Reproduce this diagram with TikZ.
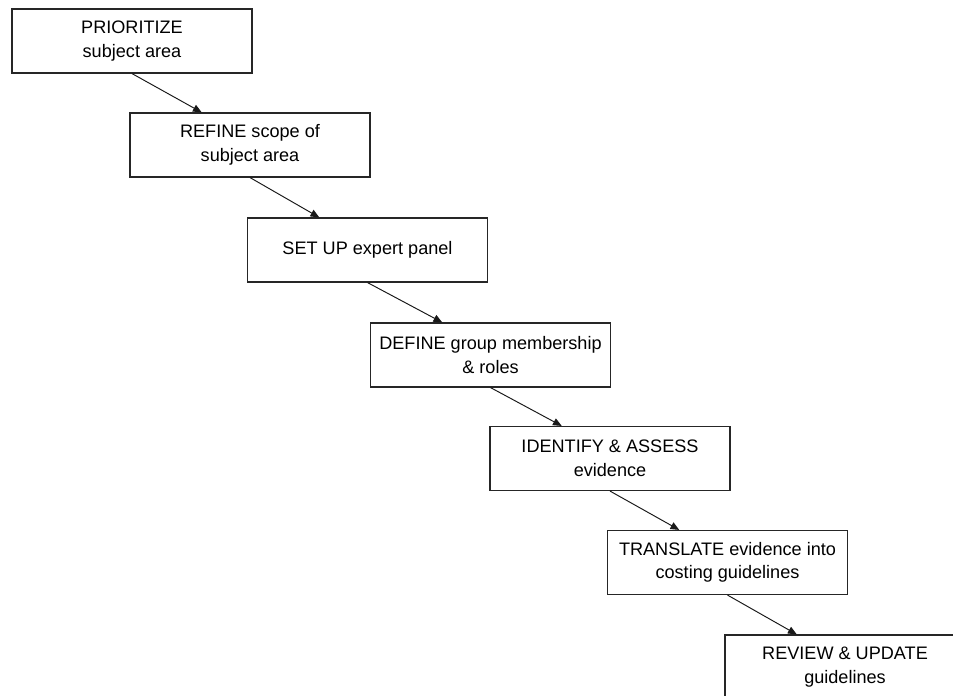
\documentclass[tikz,border=0pt]{standalone}
\usepackage{fontspec}
\setmainfont{Liberation Sans}
\usepackage{tikz}
\usetikzlibrary{arrows.meta,positioning,calc}

\begin{document}
\begin{tikzpicture}[
    >={Triangle[length=5pt,width=4.2pt]},
    font=\fontsize{10.3}{13.4}\selectfont,
    stage/.style={
        draw=black!85,
        line width=0.65pt,
        minimum width=4.8cm,
        minimum height=1.28cm,
        inner sep=1pt,
        align=center
    },
    arr/.style={->, line width=0.55pt, black!90}
]

\useasboundingbox (0,0) rectangle (19.06,-13.92);
\clip (0,0) rectangle (19.06,-13.92);

% stages, stepping down to the right
\node[stage] (prior) at (2.64,-0.82)
{PRIORITIZE\\subject area};

\node[stage] (refine) at (5.00,-2.90)
{REFINE scope of\\subject area};

\node[stage] (panel) at (7.35,-5.00)
{SET UP expert panel};

\node[stage] (member) at (9.81,-7.10)
{DEFINE group membership\\\& roles};

\node[stage] (assess) at (12.20,-9.17)
{IDENTIFY \& ASSESS\\evidence};

\node[stage] (transl) at (14.55,-11.25)
{TRANSLATE evidence into\\costing guidelines};

\node[stage] (review) at (16.90,-13.34)
{REVIEW \& UPDATE\\guidelines};

% connectors
\draw[arr] (prior.south) -- ($(refine.north west)!0.3!(refine.north east)$);
\draw[arr] (refine.south) -- ($(panel.north west)!0.3!(panel.north east)$);
\draw[arr] (panel.south) -- ($(member.north west)!0.3!(member.north east)$);
\draw[arr] (member.south) -- ($(assess.north west)!0.3!(assess.north east)$);
\draw[arr] (assess.south) -- ($(transl.north west)!0.3!(transl.north east)$);
\draw[arr] (transl.south) -- ($(review.north west)!0.3!(review.north east)$);

\end{tikzpicture}
\end{document}
